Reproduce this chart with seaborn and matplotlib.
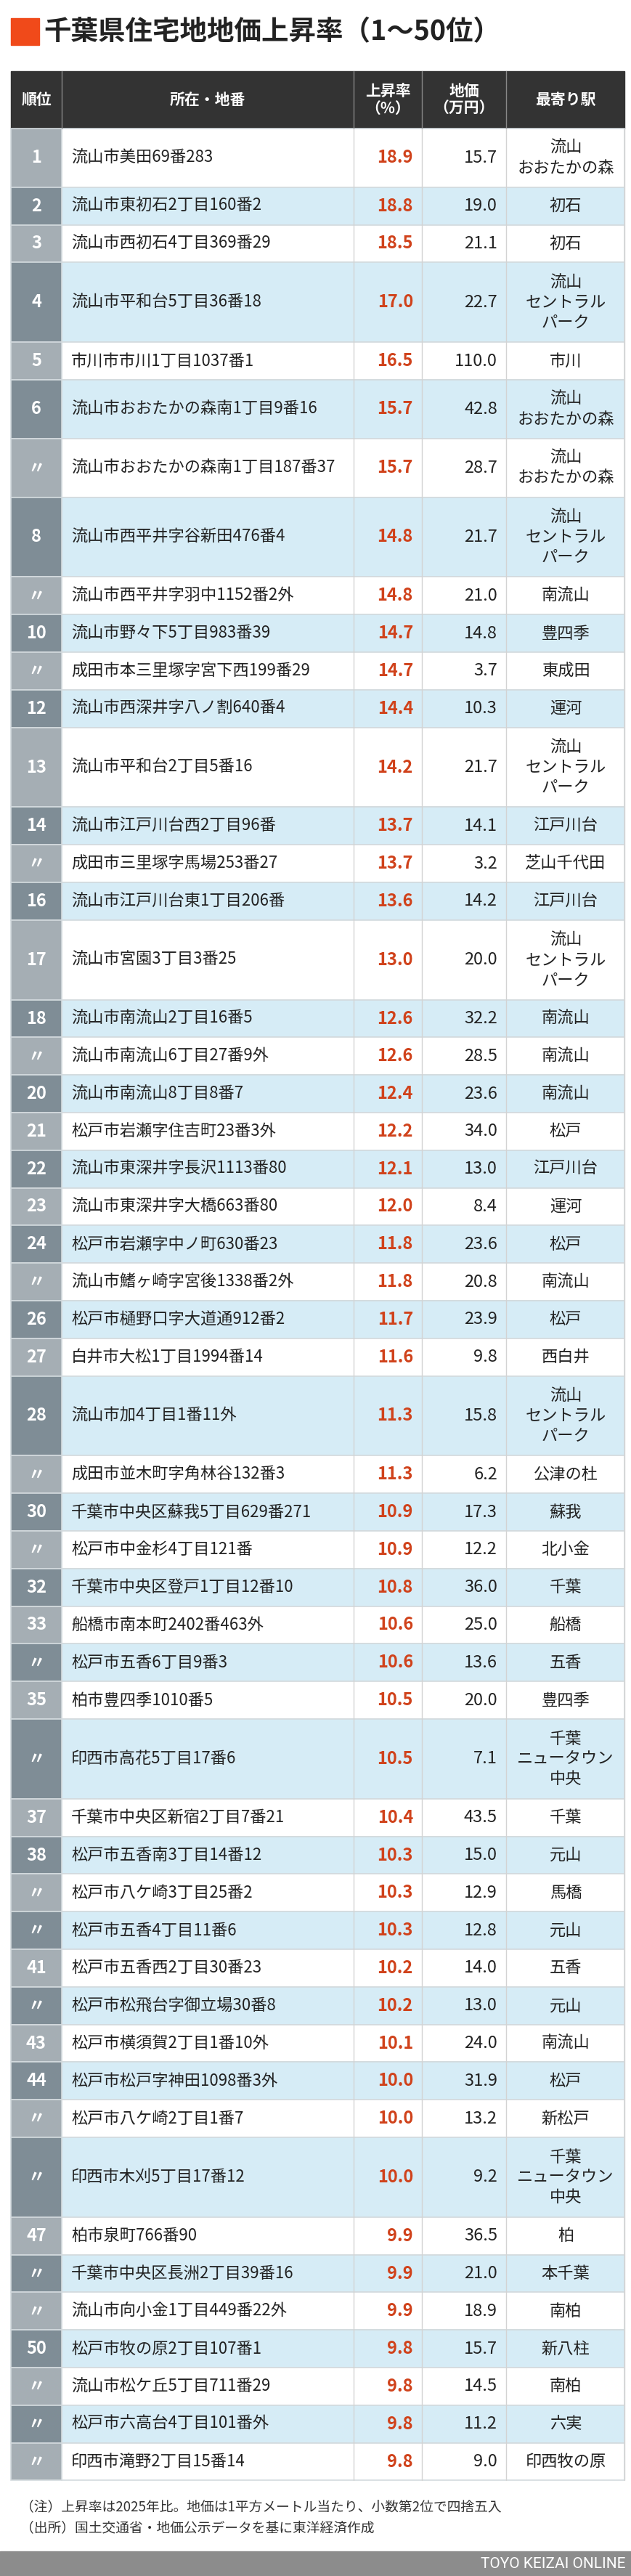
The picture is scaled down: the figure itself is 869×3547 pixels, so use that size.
import numpy as np
import matplotlib.pyplot as plt
import seaborn as sns
from matplotlib.patches import Rectangle

sns.set_theme(style="white")
plt.rcParams['font.family'] = ['Noto Sans CJK JP', 'DejaVu Sans']

# ---- データ ----
ranks = ["1", "2", "3", "4", "5", "6", "〃", "8", "〃", "10", "〃", "12", "13", "14", "〃", "16",
         "17", "18", "〃", "20", "21", "22", "23", "24", "〃", "26", "27", "28", "〃", "30", "〃",
         "32", "33", "〃", "35", "〃", "37", "38", "〃", "〃", "41", "〃", "43", "44", "〃", "〃",
         "47", "〃", "〃", "50", "〃", "〃", "〃"]
addresses = [
    "流山市美田69番283", "流山市東初石2丁目160番2", "流山市西初石4丁目369番29",
    "流山市平和台5丁目36番18", "市川市市川1丁目1037番1", "流山市おおたかの森南1丁目9番16",
    "流山市おおたかの森南1丁目187番37", "流山市西平井字谷新田476番4", "流山市西平井字羽中1152番2外",
    "流山市野々下5丁目983番39", "成田市本三里塚字宮下西199番29", "流山市西深井字八ノ割640番4",
    "流山市平和台2丁目5番16", "流山市江戸川台西2丁目96番", "成田市三里塚字馬場253番27",
    "流山市江戸川台東1丁目206番", "流山市宮園3丁目3番25", "流山市南流山2丁目16番5",
    "流山市南流山6丁目27番9外", "流山市南流山8丁目8番7", "松戸市岩瀬字住吉町23番3外",
    "流山市東深井字長沢1113番80", "流山市東深井字大橋663番80", "松戸市岩瀬字中ノ町630番23",
    "流山市鰭ヶ崎字宮後1338番2外", "松戸市樋野口字大道通912番2", "白井市大松1丁目1994番14",
    "流山市加4丁目1番11外", "成田市並木町字角林谷132番3", "千葉市中央区蘇我5丁目629番271",
    "松戸市中金杉4丁目121番", "千葉市中央区登戸1丁目12番10", "船橋市南本町2402番463外",
    "松戸市五香6丁目9番3", "柏市豊四季1010番5", "印西市高花5丁目17番6",
    "千葉市中央区新宿2丁目7番21", "松戸市五香南3丁目14番12", "松戸市八ケ崎3丁目25番2",
    "松戸市五香4丁目11番6", "松戸市五香西2丁目30番23", "松戸市松飛台字御立場30番8",
    "松戸市横須賀2丁目1番10外", "松戸市松戸字神田1098番3外", "松戸市八ケ崎2丁目1番7",
    "印西市木刈5丁目17番12", "柏市泉町766番90", "千葉市中央区長洲2丁目39番16",
    "流山市向小金1丁目449番22外", "松戸市牧の原2丁目107番1", "流山市松ケ丘5丁目711番29",
    "松戸市六高台4丁目101番外", "印西市滝野2丁目15番14"]
rates = [18.9, 18.8, 18.5, 17.0, 16.5, 15.7, 15.7, 14.8, 14.8, 14.7, 14.7, 14.4, 14.2, 13.7,
         13.7, 13.6, 13.0, 12.6, 12.6, 12.4, 12.2, 12.1, 12.0, 11.8, 11.8, 11.7, 11.6, 11.3,
         11.3, 10.9, 10.9, 10.8, 10.6, 10.6, 10.5, 10.5, 10.4, 10.3, 10.3, 10.3, 10.2, 10.2,
         10.1, 10.0, 10.0, 10.0, 9.9, 9.9, 9.9, 9.8, 9.8, 9.8, 9.8]
prices = [15.7, 19.0, 21.1, 22.7, 110.0, 42.8, 28.7, 21.7, 21.0, 14.8, 3.7, 10.3, 21.7, 14.1,
          3.2, 14.2, 20.0, 32.2, 28.5, 23.6, 34.0, 13.0, 8.4, 23.6, 20.8, 23.9, 9.8, 15.8, 6.2,
          17.3, 12.2, 36.0, 25.0, 13.6, 20.0, 7.1, 43.5, 15.0, 12.9, 12.8, 14.0, 13.0, 24.0,
          31.9, 13.2, 9.2, 36.5, 21.0, 18.9, 15.7, 14.5, 11.2, 9.0]
OTAKA = "流山\nおおたかの森"
CENTRAL = "流山\nセントラル\nパーク"
NEWTOWN = "千葉\nニュータウン\n中央"
stations = [OTAKA, "初石", "初石", CENTRAL, "市川", OTAKA, OTAKA, CENTRAL, "南流山", "豊四季",
            "東成田", "運河", CENTRAL, "江戸川台", "芝山千代田", "江戸川台", CENTRAL, "南流山",
            "南流山", "南流山", "松戸", "江戸川台", "運河", "松戸", "南流山", "松戸", "西白井",
            CENTRAL, "公津の杜", "蘇我", "北小金", "千葉", "船橋", "五香", "豊四季", NEWTOWN,
            "千葉", "元山", "馬橋", "元山", "五香", "元山", "南流山", "松戸", "新松戸", NEWTOWN,
            "柏", "本千葉", "南柏", "新八柱", "南柏", "六実", "印西牧の原"]
headers = ["順位", "所在・地番", "上昇率\n（%）", "地価\n（万円）", "最寄り駅"]

# ---- レイアウト（ピクセル） ----
W, H = 870, 3547
col_edges = [15, 85, 487, 581, 697, 860]
head_top, head_bot = 98, 177
base_h, line_add = 51.8, 29.0

fig = plt.figure(figsize=(W / 100, H / 100), dpi=100)
ax = fig.add_axes([0, 0, 1, 1])
ax.set_xlim(0, W)
ax.set_ylim(H, 0)
ax.axis('off')

# タイトル
ax.add_patch(Rectangle((15, 25), 39, 37, color='#f04a1a'))
ax.text(60, 44, "千葉県住宅地地価上昇率（1〜50位）", fontsize=27, fontweight='bold',
        color='#222222', va='center', ha='left')

# ヘッダー
ax.add_patch(Rectangle((col_edges[0], head_top), col_edges[-1] - col_edges[0],
                       head_bot - head_top, color='#333333'))
for i, h in enumerate(headers):
    cx = (col_edges[i] + col_edges[i + 1]) / 2
    ax.text(cx, (head_top + head_bot) / 2, h, color='white', fontsize=15, fontweight='bold',
            ha='center', va='center', linespacing=1.15)
for x in col_edges[1:-1]:
    ax.plot([x, x], [head_top, head_bot], color='#888888', lw=1)

# 行
n_lines = np.array([s.count("\n") + 1 for s in stations])
heights = base_h + line_add * (n_lines - 1)
tops = head_bot + np.concatenate([[0], np.cumsum(heights)[:-1]])
centers = tops + heights / 2
bg = ['white' if i % 2 == 0 else '#d6ecf6' for i in range(len(ranks))]
rank_bg = ['#a5aeb4' if i % 2 == 0 else '#7f8d96' for i in range(len(ranks))]

ax.barh(centers, col_edges[-1] - col_edges[1], height=heights, left=col_edges[1],
        color=bg, edgecolor='#d3dade', linewidth=1.2)
ax.barh(centers, col_edges[1] - col_edges[0], height=heights, left=col_edges[0],
        color=rank_bg, edgecolor='#d3dade', linewidth=1.2)
table_bot = tops[-1] + heights[-1]
for x in col_edges[2:-1]:
    ax.plot([x, x], [head_bot, table_bot], color='#d3d3d3', lw=1)
ax.plot([col_edges[-1]] * 2, [head_bot, table_bot], color='#d3d3d3', lw=1)

for i in range(len(ranks)):
    cy = centers[i]
    ax.text(50, cy, ranks[i], color='white', fontsize=17, fontweight='bold',
            ha='center', va='center')
    ax.text(98, cy, addresses[i], color='#222222', fontsize=16, ha='left', va='center')
    ax.text(569, cy, f"{rates[i]:.1f}", color='#d0421b', fontsize=17, fontweight='bold',
            ha='right', va='center')
    ax.text(685, cy, f"{prices[i]:.1f}", color='#222222', fontsize=17, ha='right', va='center')
    ax.text(779, cy, stations[i], color='#222222', fontsize=16, ha='center', va='center',
            linespacing=1.25)

# 注記
ax.text(28, 3452, "（注）上昇率は2025年比。地価は1平方メートル当たり、小数第2位で四捨五入",
        fontsize=13.5, color='#333333', ha='left', va='center')
ax.text(28, 3482, "（出所）国土交通省・地価公示データを基に東洋経済作成",
        fontsize=13.5, color='#333333', ha='left', va='center')

# フッター
ax.add_patch(Rectangle((0, 3513), W, H - 3513, color='#8c8c8c'))
ax.text(862, 3530, "TOYO KEIZAI ONLINE", fontsize=15, color='white', ha='right',
        va='center', family=['Roboto', 'DejaVu Sans'])

fig.savefig("out.png", dpi=100)
